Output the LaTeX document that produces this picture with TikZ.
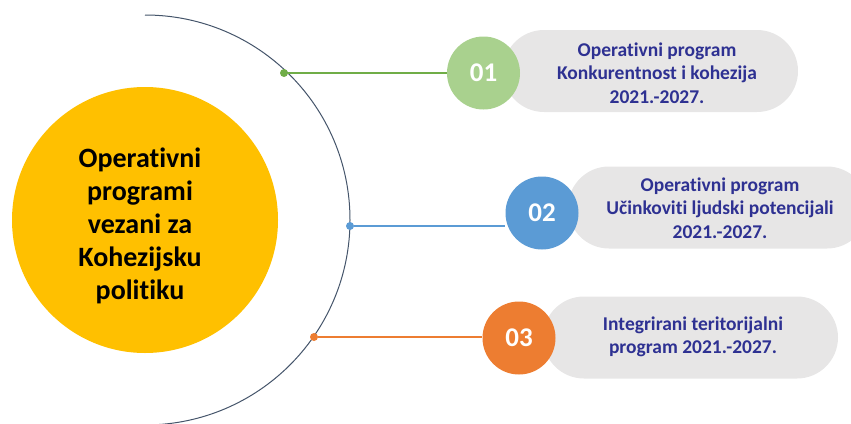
\documentclass[tikz,border=0pt]{standalone}
\usepackage{fontspec}
\setmainfont{Carlito}[Ligatures={NoCommon}]
\definecolor{cyellow}{HTML}{FFC000}
\definecolor{carc}{HTML}{44546A}
\definecolor{cgreen}{HTML}{70AD47}
\definecolor{clgreen}{HTML}{A9D18E}
\definecolor{cblue}{HTML}{5B9BD5}
\definecolor{corange}{HTML}{ED7D31}
\definecolor{cpill}{HTML}{E7E6E6}
\definecolor{ctext}{HTML}{2E3192}
\begin{document}
\begin{tikzpicture}[x=1pt,y=1pt,
  pill/.style={fill=cpill, rounded corners=41pt, minimum height=82pt, inner sep=0pt, draw=none},
  ptext/.style={align=center, text=ctext, font=\bfseries\fontsize{19.5}{23.5}\selectfont},
  numc/.style={circle, minimum size=73pt, inner sep=0pt, text=white, font=\bfseries\fontsize{27}{27}\selectfont},
  dotc/.style={circle, minimum size=8pt, inner sep=0pt},
  conn/.style={line width=1.3pt}]
\useasboundingbox (0,0) rectangle (851,-423);
% central circle
\node[circle, fill=cyellow, minimum size=266pt, inner sep=0pt] (c) at (145,-220) {};
\node[align=center, font=\bfseries\fontsize{28}{33}\selectfont] (ct) at (140,-226) {Operativni\\programi\\vezani za\\Kohezijsku\\politiku};
% arc
\draw[carc, line width=1pt] (145,-15) arc[start angle=90, end angle=-88, radius=205];
% pills
\node[pill, minimum width=295pt] (p1) at (650.5,-71) {};
\node[ptext] (t1) at (657,-73) {Operativni program\\Konkurentnost i kohezija\\2021.-2027.};
\node[pill, minimum width=300pt] (p2) at (718,-207.5) {};
\node[ptext] (t2) at (720,-208) {Operativni program\\Učinkoviti ljudski potencijali\\2021.-2027.};
\node[pill, minimum width=295pt] (p3) at (690.5,-337.5) {};
\node[ptext] (t3) at (693,-337) {Integrirani teritorijalni\\program 2021.-2027.};
% number circles
\node[numc, fill=clgreen] (n1) at (483.5,-73) {01};
\node[numc, fill=cblue] (n2) at (542,-213) {02};
\node[numc, fill=corange] (n3) at (519,-338) {03};
% dots
\node[dotc, fill=cgreen] (d1) at (284,-73) {};
\node[dotc, fill=cblue] (d2) at (350,-226) {};
\node[dotc, fill=corange] (d3) at (314,-337) {};
% connectors
\draw[conn, cgreen] (d1) -- (n1.west |- d1);
\draw[conn, cblue] (d2) -- (d2 -| n2.west);
\draw[conn, corange] (d3) -- (d3 -| n3.west);
\end{tikzpicture}
\end{document}
